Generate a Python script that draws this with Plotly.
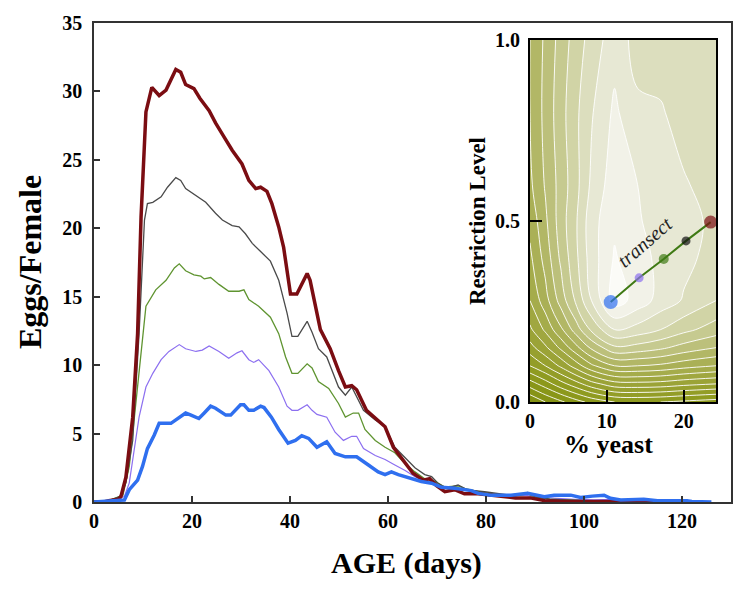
import plotly.graph_objects as go

# ---------------- main chart data (days, eggs/female) ----------------
red_days = [0, 2, 3, 5, 5.5, 6.5, 7.9, 8.9, 9.6, 10.6, 11.8, 13.3, 14.7, 15.7, 16.7, 17.7, 18.7, 20.4, 21.6,
            23.5, 24.8, 26.5, 28.2, 30.2, 31.6, 33.0, 34.0, 35.3, 36.3, 37.7, 38.7, 40.1, 41.4, 43.5, 44.1,
            46.2, 48.2, 49.9, 51.3, 52.6, 53.6, 55.6, 57.7, 59.4, 61.1, 63.1, 65.1, 67.2, 68.5, 69.9, 71.6,
            73.6, 75.6, 78.4, 81, 82.4, 86, 89, 92, 95, 100, 105, 110, 122]
red_eggs = [0, 0, 0.1, 0.2, 0.4, 1.8, 6.2, 12.3, 20.8, 28.5, 30.3, 29.7, 30.1, 30.9, 31.6, 31.4, 30.5, 30.2, 29.5,
            28.6, 27.7, 26.7, 25.7, 24.7, 23.5, 22.9, 23.0, 22.7, 21.8, 20.1, 18.6, 15.2, 15.2, 16.7, 16.2,
            12.6, 11.2, 9.6, 8.4, 8.5, 8.2, 6.7, 6.0, 5.5, 4.0, 3.1, 2.1, 1.6, 1.7, 1.2, 0.75,
            0.9, 0.6, 0.6, 0.5, 0.4, 0.3, 0.3, 0.1, 0.05, 0.05, 0.05, 0.02, 0]

gray_days = [0, 2, 3, 5.3, 6.5, 7.9, 9.2, 10.3, 10.9, 12, 13.7, 15, 16.7, 17.7, 18.7, 20.4, 22.8, 24.8, 26.2,
             28.2, 29.6, 30.9, 32.3, 34.0, 36.0, 37.7, 39.4, 40.4, 41.6, 43.5, 44.5, 45.8, 47.5, 49.9, 51.3,
             52.6, 55, 57.4, 59.4, 61.4, 63.5, 65.5, 67.5, 68.9, 70.2, 71.9, 74.3, 76.3, 79.7, 83, 86, 88.5,
             90, 93, 97, 100, 105, 110, 115, 122]
gray_eggs = [0, 0, 0.1, 0.4, 1.4, 4.5, 12.3, 20.6, 21.8, 21.9, 22.3, 23.0, 23.7, 23.5, 22.9, 22.5, 21.9, 21.1, 20.6,
             20.2, 20.1, 19.6, 18.9, 18.3, 17.6, 16.2, 13.8, 12.1, 12.1, 13.2, 12.4, 11.2, 10.6, 8.4, 7.8,
             8.4, 6.7, 6.0, 5.5, 4.0, 3.2, 2.5, 2.0, 1.85, 1.37, 1.0, 1.24, 0.88, 0.75, 0.6, 0.45, 0.7,
             0.4, 0.2, 0.15, 0.1, 0.1, 0.05, 0.02, 0]

green_days = [0, 2, 3, 5.9, 7.2, 8.6, 9.6, 10.6, 12.6, 14.7, 16.4, 17.4, 18.7, 20.4, 21.8, 22.5, 23.8, 25.5,
              27.5, 29.6, 30.6, 31.6, 33.6, 36.0, 37.7, 39.1, 40.4, 41.6, 43.5, 44.5, 45.8, 47.9, 49.9, 51.3,
              52.9, 54, 55.3, 57.4, 59.4, 61.4, 63.5, 65.5, 67.5, 69.6, 71.6, 74.3, 75.6, 78.4, 82, 86, 88.5,
              90, 93, 97, 100, 105, 110, 118]
green_eggs = [0, 0, 0.1, 0.5, 2.6, 7.45, 11.1, 14.3, 15.5, 16.2, 17.1, 17.4, 16.9, 16.6, 16.5, 16.3, 16.4, 15.9,
              15.4, 15.4, 15.5, 14.8, 14.3, 13.5, 12.3, 10.6, 9.4, 9.4, 10.1, 9.8, 8.8, 8.3, 7.2, 6.2,
              6.5, 6.5, 5.3, 4.5, 4.0, 3.6, 2.8, 2.2, 1.7, 1.5, 1.1, 1.17, 1.0, 0.75, 0.55, 0.45, 0.6,
              0.35, 0.2, 0.15, 0.1, 0.1, 0.05, 0]

purple_days = [0, 2, 3, 6.2, 7.2, 8.2, 9.2, 10.6, 12, 13.7, 15.3, 17.4, 18.7, 20.8, 22.1, 23.5, 25.5, 27.5,
               29.2, 30.2, 31.6, 32.6, 33.6, 35.7, 37.7, 39.4, 40.4, 41.6, 43.5, 44.5, 45.5, 47.5, 49.2, 50.9,
               52.6, 53.6, 55, 57.4, 59.4, 61.4, 63.5, 65.5, 67.5, 70.2, 72.9, 77, 81, 85, 88, 90, 94, 98,
               102, 106, 110, 118]
purple_eggs = [0, 0, 0.1, 0.4, 1.4, 3.8, 6.2, 8.4, 9.4, 10.4, 11.0, 11.5, 11.2, 11.0, 11.1, 11.4, 11.0, 10.5,
               10.9, 11.05, 10.4, 10.2, 10.4, 9.6, 8.4, 7.0, 6.7, 6.7, 7.1, 6.7, 6.4, 6.2, 5.1, 4.5,
               4.8, 4.8, 3.9, 3.4, 3.1, 2.7, 2.3, 1.85, 1.5, 1.24, 1.0, 0.83, 0.6, 0.45, 0.5, 0.35, 0.25, 0.2,
               0.15, 0.2, 0.05, 0]

blue_days = [0, 2.5, 6.2, 7.2, 8.9, 9.9, 10.9, 12.3, 13.3, 15.7, 17.4, 18.7, 19.8, 21.4, 22.5, 23.8, 24.8,
             26.9, 27.9, 29.9, 30.6, 31.6, 32.6, 34, 34.7, 36.2, 37.7, 39.6, 41.1, 42.4, 43.8, 45.5, 47.5,
             49.2, 51.3, 53.6, 56, 58, 59.4, 60.7, 62.1, 64.8, 66.8, 68.9, 70.9, 73.6, 77, 78.4, 81, 85.1,
             88.5, 91.9, 93.9, 97.3, 99.3, 101.7, 104.1, 105.4, 107.5, 112.2, 115, 121, 122, 126]
blue_eggs = [0, 0.07, 0.15, 0.9, 1.6, 2.6, 3.9, 4.9, 5.75, 5.75, 6.2, 6.5, 6.35, 6.1, 6.5, 7.0, 6.85,
             6.35, 6.35, 7.1, 7.1, 6.7, 6.7, 7.0, 6.9, 6.2, 5.3, 4.3, 4.5, 4.85, 4.65, 4.0, 4.4,
             3.55, 3.3, 3.3, 2.7, 2.2, 2.0, 2.2, 2.0, 1.7, 1.5, 1.37, 1.07, 1.0, 0.83, 0.63, 0.5, 0.5,
             0.63, 0.39, 0.5, 0.5, 0.33, 0.43, 0.5, 0.27, 0.15, 0.2, 0.1, 0.1, 0.03, 0]

x_ticks = [0, 20, 40, 60, 80, 100, 120]
y_ticks = [0, 5, 10, 15, 20, 25, 30, 35]

# ---------------- inset data ----------------
yeast_grid = [0, 2, 4, 6, 8, 11, 14, 17, 20, 24.2]
restriction_grid = [0, 0.05, 0.1, 0.15, 0.2, 0.28, 0.4, 0.5, 0.6, 0.8, 1.0]
surface = [
    [2.0, 3.0, 3.8, 4.6, 5.3, 6.0, 6.1, 6.0, 5.8, 5.5],
    [4.5, 5.5, 6.6, 7.6, 8.6, 9.6, 9.7, 9.6, 9.3, 9.0],
    [7.0, 8.0, 9.2, 10.5, 11.8, 13.0, 13.0, 12.8, 12.4, 12.0],
    [8.6, 9.8, 11.2, 12.7, 14.2, 15.8, 15.6, 15.2, 14.6, 14.0],
    [9.8, 11.2, 12.8, 14.5, 16.2, 18.0, 17.6, 17.0, 16.3, 15.5],
    [11.0, 12.6, 14.4, 16.2, 18.0, 20.5, 19.6, 18.6, 17.9, 17.0],
    [11.8, 13.4, 15.2, 16.8, 18.5, 20.1, 19.3, 18.8, 18.3, 17.6],
    [12.3, 13.8, 15.5, 16.9, 18.6, 19.8, 19.1, 18.6, 18.3, 17.8],
    [12.8, 14.1, 15.4, 16.7, 18.2, 19.6, 19.0, 18.5, 18.1, 17.6],
    [13.0, 14.3, 15.6, 16.8, 17.9, 19.2, 18.2, 18.1, 17.6, 17.3],
    [13.0, 14.2, 15.4, 16.5, 17.4, 18.6, 17.6, 17.5, 17.3, 17.2],
]
transect_yeast = [10.5, 14.2, 17.4, 20.3, 23.5]
transect_level = [0.276, 0.343, 0.395, 0.445, 0.497]

RED = "#7b0d12"
GRAY = "#4a4a4a"
GREEN = "#5f9430"
PURPLE = "#8c6ff0"
BLUE = "#2f6fef"
transect_colors = [BLUE, PURPLE, "#3f7a14", "#111111", RED]
transect_sizes = [14, 9, 10, 9, 13]

SERIF = "Liberation Serif, Times New Roman, serif"

fig = go.Figure()

series = [
    (purple_days, purple_eggs, PURPLE, 1.2),
    (green_days, green_eggs, GREEN, 1.3),
    (gray_days, gray_eggs, GRAY, 1.3),
    (red_days, red_eggs, RED, 3.5),
    (blue_days, blue_eggs, BLUE, 3.5),
]
for d, e, c, w in series:
    fig.add_trace(go.Scatter(x=d, y=e, mode="lines", line=dict(color=c, width=w),
                             showlegend=False, hoverinfo="skip"))

fig.add_trace(go.Contour(
    x=yeast_grid, y=restriction_grid, z=surface,
    xaxis="x2", yaxis="y2",
    zmin=0, zmax=21,
    contours=dict(start=1, end=20, size=1, coloring="fill"),
    line=dict(color="rgba(255,255,255,0.9)", width=1, smoothing=1.0),
    colorscale=[
        [0.0, "#7d8c0c"], [0.29, "#8e9a1e"], [0.48, "#9ea53c"], [0.62, "#acb25a"],
        [0.71, "#bec27f"], [0.81, "#d3d6aa"], [0.86, "#dee0c3"], [0.905, "#e8e9d6"],
        [0.95, "#f2f2e8"], [1.0, "#fbfbf7"]],
    showscale=False, hoverinfo="skip"))

fig.add_trace(go.Scatter(x=transect_yeast, y=transect_level, xaxis="x2", yaxis="y2",
                         mode="lines+markers", line=dict(color="#3f7a14", width=2),
                         marker=dict(color=transect_colors, size=transect_sizes, line=dict(width=0)),
                         showlegend=False, hoverinfo="skip"))

L, R, T, B = 94, 731, 23, 502
W, H = 750, 604


def px(xp):
    return (xp - L) / (R - L)


def py(yp):
    return (B - yp) / (B - T)


fig.update_layout(
    width=W, height=H,
    margin=dict(l=L, r=W - R, t=T, b=H - B),
    paper_bgcolor="white", plot_bgcolor="white",
    showlegend=False,
    xaxis=dict(range=[0, 130], tickvals=x_ticks, ticks="inside", ticklen=6, tickwidth=1.5,
               tickcolor="#333", showline=True, mirror=True, linecolor="#333", linewidth=1.5,
               showgrid=False, zeroline=False, ticklabelstandoff=0,
               tickfont=dict(family=SERIF, size=20, color="black", weight="bold")),
    yaxis=dict(range=[0, 35], tickvals=y_ticks, ticks="inside", ticklen=6, tickwidth=1.5,
               tickcolor="#333", showline=True, mirror=True, linecolor="#333", linewidth=1.5,
               showgrid=False, zeroline=False, ticklabelstandoff=6,
               tickfont=dict(family=SERIF, size=20, color="black", weight="bold")),
    xaxis2=dict(domain=[px(530), px(716)], anchor="y2", range=[0, 24.2], tickvals=[0, 10, 20],
                ticks="inside", ticklen=12, tickwidth=2, tickcolor="black",
                showline=True, mirror=True, linecolor="black", linewidth=2,
                showgrid=False, zeroline=False, ticklabelstandoff=0,
                tickfont=dict(family=SERIF, size=20, color="black", weight="bold")),
    yaxis2=dict(domain=[py(402), py(40)], anchor="x2", range=[0, 1], tickvals=[0, 0.5, 1.0],
                ticktext=["0.0", "0.5", "1.0"],
                ticks="inside", ticklen=12, tickwidth=2, tickcolor="black",
                showline=True, mirror=True, linecolor="black", linewidth=2,
                showgrid=False, zeroline=False, ticklabelstandoff=4,
                tickfont=dict(family=SERIF, size=20, color="black", weight="bold")),
    annotations=[
        dict(text="Eggs/Female", x=px(30), y=py(262), xref="paper", yref="paper", showarrow=False,
             textangle=-90, font=dict(family=SERIF, size=32, color="black", weight="bold"),
             xanchor="center", yanchor="middle"),
        dict(text="AGE (days)", x=px(406), y=py(563), xref="paper", yref="paper", showarrow=False,
             font=dict(family=SERIF, size=30, color="black", weight="bold"),
             xanchor="center", yanchor="middle"),
        dict(text="Restriction Level", x=px(477), y=py(221), xref="paper", yref="paper",
             showarrow=False, textangle=-90,
             font=dict(family=SERIF, size=23, color="black", weight="bold"),
             xanchor="center", yanchor="middle"),
        dict(text="% yeast", x=px(608), y=py(444), xref="paper", yref="paper", showarrow=False,
             font=dict(family=SERIF, size=26, color="black", weight="bold"),
             xanchor="center", yanchor="middle"),
        dict(text="transect", x=14.9, y=0.443, xref="x2", yref="y2", showarrow=False,
             textangle=-41, font=dict(family=SERIF, size=20, color="#222", style="italic"),
             xanchor="center", yanchor="middle"),
    ],
)

fig.write_html("out.html", config={"displayModeBar": False},
               post_script="document.body.style.margin='0px';")
